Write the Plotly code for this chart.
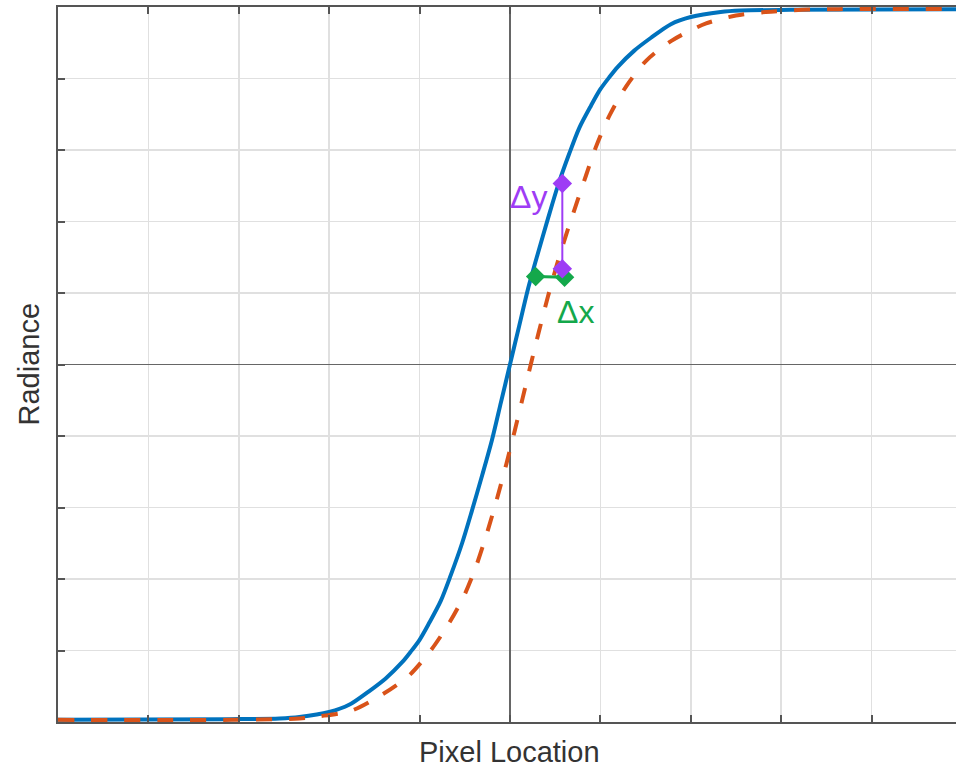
import plotly.graph_objects as go

# Reference edge curve (solid blue)
blue_x = [-5.0, -3.10, -2.55, -2.33, -2.00, -1.78, -1.56, -1.375, -1.19, -1.10, -1.00, -0.896,
          -0.767, -0.656, -0.53, -0.42, -0.31, -0.20, -0.10, 0.0, 0.10, 0.20, 0.31, 0.42, 0.53,
          0.656, 0.767, 0.896, 1.00, 1.10, 1.19, 1.375, 1.56, 1.78, 2.00, 2.33, 2.55, 3.10, 4.95]
blue_y = [-4.97, -4.96, -4.95, -4.93, -4.86, -4.76, -4.57, -4.39, -4.16, -4.02, -3.85, -3.62,
          -3.31, -2.95, -2.50, -2.04, -1.56, -1.06, -0.53, 0.0, 0.53, 1.06, 1.56, 2.04, 2.50,
          2.95, 3.31, 3.62, 3.85, 4.02, 4.16, 4.39, 4.57, 4.76, 4.86, 4.93, 4.95, 4.96, 4.97]

# Shifted edge curve (dashed orange)
orange_x = [-5.0, -3.08, -2.33, -2.11, -1.75, -1.42, -1.25, -1.10, -0.877, -0.675, -0.51, -0.38,
            -0.25, -0.14, -0.04, 0.05, 0.14, 0.23, 0.32, 0.42, 0.52, 0.62, 0.73, 0.84, 0.95,
            1.10, 1.28, 1.50, 1.79, 2.17, 2.50, 2.83, 3.23, 3.64, 4.95]
orange_y = [-4.97, -4.97, -4.95, -4.92, -4.84, -4.62, -4.48, -4.33, -4.00, -3.62, -3.24, -2.84,
            -2.34, -1.86, -1.39, -0.94, -0.47, 0.0, 0.46, 0.95, 1.40, 1.81, 2.23, 2.64, 3.04,
            3.48, 3.88, 4.24, 4.53, 4.77, 4.88, 4.93, 4.96, 4.97, 4.97]

# Delta markers
dx_x = [0.284, 0.604]
dx_y = [1.23, 1.22]
dy_x = [0.579, 0.579]
dy_y = [2.53, 1.34]

grid_vals = [-5, -4, -3, -2, -1, 0, 1, 2, 3, 4, 5]

BLUE = "#0072BD"
ORANGE = "#D95319"
PURPLE = "#9E3CF5"
GREEN = "#14A84B"
AX = "#555555"
FONT = "Liberation Sans, Arial"

fig = go.Figure()
fig.add_trace(go.Scatter(x=blue_x, y=blue_y, mode="lines",
                         line=dict(color=BLUE, width=4, shape="spline", smoothing=0.8),
                         hoverinfo="skip"))
fig.add_trace(go.Scatter(x=orange_x, y=orange_y, mode="lines",
                         line=dict(color=ORANGE, width=4, dash="16px,17px", shape="spline", smoothing=0.8),
                         hoverinfo="skip"))
fig.add_trace(go.Scatter(x=dx_x, y=dx_y, mode="lines+markers",
                         line=dict(color=GREEN, width=3),
                         marker=dict(symbol="diamond", size=15, color=GREEN),
                         hoverinfo="skip"))
fig.add_trace(go.Scatter(x=dy_x, y=dy_y, mode="lines+markers",
                         line=dict(color=PURPLE, width=2),
                         marker=dict(symbol="diamond", size=15, color=PURPLE),
                         hoverinfo="skip"))

fig.add_annotation(x=0.20, y=2.34, xref="x", yref="y", text="Δy", showarrow=False,
                   font=dict(family=FONT, size=32, color=PURPLE))
fig.add_annotation(x=0.72, y=0.74, xref="x", yref="y", text="Δx", showarrow=False,
                   font=dict(family=FONT, size=32, color=GREEN))

fig.add_annotation(x=0, y=0, xref="x", yref="paper", yshift=-30, yanchor="middle",
                   text="Pixel Location", showarrow=False,
                   font=dict(family=FONT, size=29, color="#333333"))
fig.add_annotation(x=-0.0334, y=0, xref="paper", yref="y", textangle=-90,
                   xanchor="center", yanchor="middle",
                   text="Radiance", showarrow=False,
                   font=dict(family=FONT, size=29, color="#333333"))

axis_common = dict(
    tickvals=grid_vals, showticklabels=False,
    showgrid=True, gridcolor="#e0e0e0", gridwidth=1.5,
    zeroline=True, zerolinecolor="#666666", zerolinewidth=1.5,
    showline=True, linecolor=AX, linewidth=2,
    ticks="inside", ticklen=7, tickwidth=2, tickcolor=AX,
    fixedrange=True,
)

fig.update_xaxes(range=[-5, 4.934], mirror="ticks", **axis_common)
fig.update_yaxes(range=[-5, 5], mirror=False, **axis_common)

fig.update_layout(
    width=956, height=768,
    margin=dict(l=58, r=0, t=7, b=46),
    plot_bgcolor="white", paper_bgcolor="white",
    showlegend=False,
)

fig.write_html("out.html",
               config={"displayModeBar": False, "staticPlot": True},
               post_script="document.body.style.margin='0px';document.body.style.overflow='hidden';")
